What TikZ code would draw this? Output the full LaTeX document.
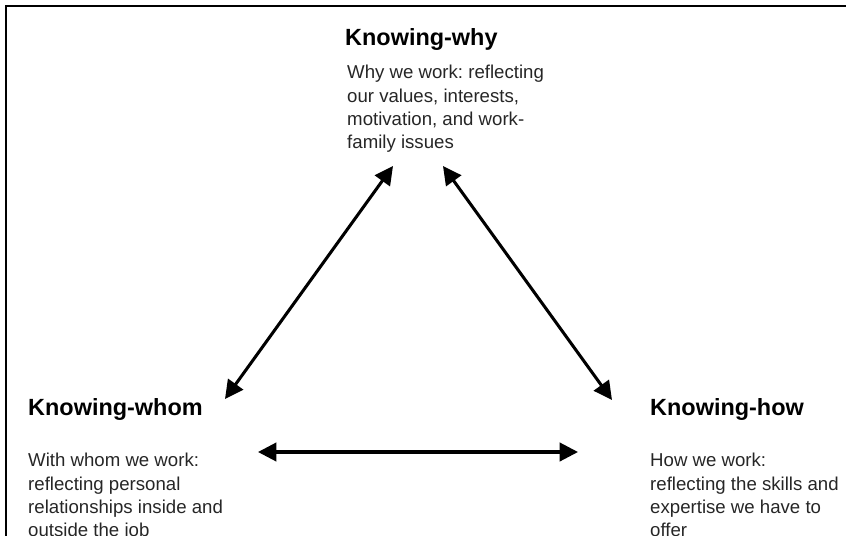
\documentclass[tikz,border=0pt]{standalone}
\usepackage{fontspec}
\setmainfont{Liberation Sans}
\usetikzlibrary{arrows.meta}
\frenchspacing
\begin{document}
\begin{tikzpicture}[x=0.03cm,y=-0.03cm]
    \tikzstyle{frame}=[line width=1.8pt]
    \tikzstyle{heading}=[anchor=north west,inner sep=0pt,font=\fontsize{20}{24}\selectfont\bfseries]
    \tikzstyle{body}=[anchor=north west,inner sep=0pt,align=left,text=black!85,font=\fontsize{15.9}{19.9}\selectfont]
    \tikzstyle{links}=[{Triangle[length=0.55cm,width=0.55cm]}-{Triangle[length=0.55cm,width=0.55cm]},line width=2.6pt]
    \useasboundingbox (0,0) rectangle (846,536);
    \draw[frame] (6.3,536) -- (6.3,6.3) -- (846,6.3);

    % the three corners
    \node[heading] (why) at (345,28) {Knowing-why};
    \node[body] (whytxt) at (347,65) {Why we work: reflecting\\our values, interests,\\motivation, and work-\\family issues};
    \node[heading] (whom) at (28,398) {Knowing-whom};
    \node[body] (whomtxt) at (28,453) {With whom we work:\\reflecting personal\\relationships inside and\\outside the job};
    \node[heading] (how) at (650,398) {Knowing-how};
    \node[body] (howtxt) at (650,453) {How we work:\\reflecting the skills and\\expertise we have to\\offer};

    \coordinate (whyL) at (393,166);
    \coordinate (whyR) at (443,166);
    \coordinate (whomU) at (225,399);
    \coordinate (whomR) at (258,452);
    \coordinate (howU) at (612,400);
    \coordinate (howL) at (578,452);

    \draw[links] (whomU) -- (whyL);
    \draw[links] (whyR) -- (howU);
    \draw[links] (whomR) -- (howL);
\end{tikzpicture}
\end{document}
